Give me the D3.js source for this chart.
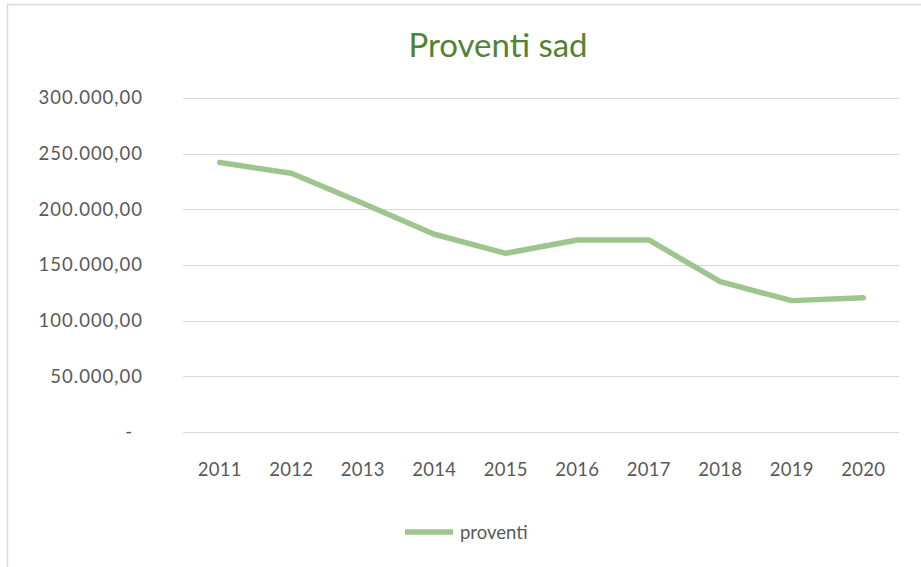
<!DOCTYPE html>
<html>
<head>
<meta charset="utf-8">
<script src="https://cdn.jsdelivr.net/npm/d3@7"></script>
<style>
  html, body { margin: 0; padding: 0; background: #fff; }
  svg { display: block; }
  text { font-family: Lato, "Open Sans", sans-serif; }
</style>
</head>
<body>
<script>
const years = ["2011","2012","2013","2014","2015","2016","2017","2018","2019","2020"];
const proventi = [242000, 232400, 205400, 177600, 160500, 172500, 172500, 135000, 118000, 120600];
const yTicks = [0, 50000, 100000, 150000, 200000, 250000, 300000];
const title = "Proventi sad";
const seriesName = "proventi";

const W = 921, H = 567;
const svg = d3.select("body").append("svg").attr("width", W).attr("height", H);

// chart frame (top and left borders visible)
svg.append("path")
  .attr("d", "M7.5,567 L7.5,4.5 L921,4.5")
  .attr("fill", "none").attr("stroke", "#d9d9d9").attr("stroke-width", 1.5);

const x = d3.scaleBand().domain(years).range([184, 899]);
const y = d3.scaleLinear().domain([0, 300000]).range([432, 98]);

// gridlines
svg.append("g").selectAll("line").data(yTicks).join("line")
  .attr("x1", 183).attr("x2", 899)
  .attr("y1", d => Math.round(y(d)) + 0.5).attr("y2", d => Math.round(y(d)) + 0.5)
  .attr("stroke", "#d9d9d9").attr("stroke-width", 1);

// y axis labels
const fmt = d => d === 0 ? "-" : d3.format(",.2f")(d).replace(/,/g, "#").replace(".", ",").replace(/#/g, ".");
const yAxis = d3.axisLeft(y).tickValues(yTicks).tickFormat(fmt).tickSize(0).tickPadding(0);
const gy = svg.append("g").attr("transform", "translate(143,0)").call(yAxis);
gy.select(".domain").remove();
gy.selectAll("text")
  .attr("fill", "#595959").style("font-size", "18.5px").style("font-family", "Lato, sans-serif")
  .style("letter-spacing", "1px")
  .attr("dx", d => d === 0 ? -10 : 0);

// x axis labels
const xAxis = d3.axisBottom(x).tickSize(0).tickPadding(0);
const gx = svg.append("g").attr("transform", "translate(0,463)").call(xAxis);
gx.select(".domain").remove();
gx.selectAll("text")
  .attr("fill", "#595959").style("font-size", "18.5px").style("font-family", "Lato, sans-serif")
  .style("letter-spacing", "0.3px");

// line
const line = d3.line().x((d, i) => x(years[i]) + x.bandwidth() / 2).y(d => y(d));
svg.append("path").datum(proventi)
  .attr("d", line)
  .attr("fill", "none").attr("stroke", "#9ec68c").attr("stroke-width", 5.5)
  .attr("stroke-linejoin", "round").attr("stroke-linecap", "round");

// title
svg.append("text").attr("x", 498).attr("y", 57)
  .attr("text-anchor", "middle").attr("fill", "#548235")
  .style("font-size", "33px").text(title);

// legend
svg.append("line").attr("x1", 405).attr("x2", 453).attr("y1", 532).attr("y2", 532)
  .attr("stroke", "#9ec68c").attr("stroke-width", 5.5);
svg.append("text").attr("x", 460).attr("y", 539)
  .attr("fill", "#595959").style("font-size", "18.5px").text(seriesName);
</script>
</body>
</html>
